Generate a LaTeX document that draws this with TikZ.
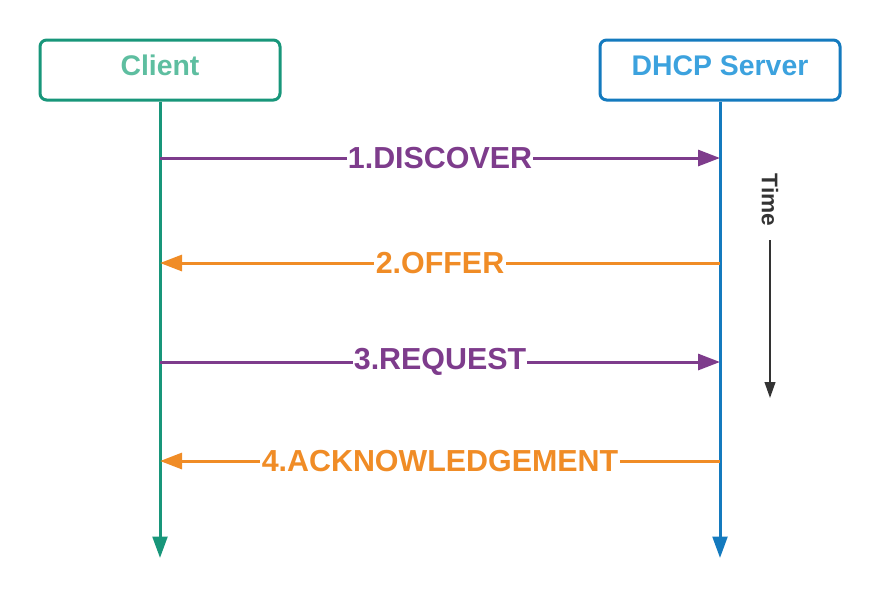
\documentclass[tikz,border=0pt]{standalone}
\usepackage{fontspec}
\setmainfont{Liberation Sans}
\usetikzlibrary{arrows.meta}
\definecolor{clientline}{RGB}{24,150,122}
\definecolor{clienttext}{RGB}{94,190,160}
\definecolor{serverline}{RGB}{20,122,190}
\definecolor{servertext}{RGB}{60,162,222}
\definecolor{msgpurple}{RGB}{126,60,140}
\definecolor{msgorange}{RGB}{240,140,38}
\definecolor{timegray}{RGB}{51,51,51}
\tikzset{
  hostbox/.style={draw, line width=2.25pt, rounded corners=5pt, minimum width=180pt, minimum height=45pt, text height=16pt, text depth=8.2pt, font=\fontsize{21.3}{24}\selectfont\bfseries},
  lifeline/.style={line width=2.25pt, -{Triangle[length=16pt, width=11pt]}},
  msgline/.style={line width=2.25pt, -{Triangle[length=16.5pt, width=12pt]}},
  msglabel/.style={fill=white, inner xsep=1pt, inner ysep=2pt, font=\fontsize{22.8}{26}\selectfont\bfseries},
}
\begin{document}
\begin{tikzpicture}[x=0.75pt, y=-0.75pt]
  \useasboundingbox (0,0) rectangle (880,594);
  \node[hostbox, draw=clientline, text=clienttext] (client) at (160,70) {Client};
  \node[hostbox, draw=serverline, text=servertext] (server) at (720,70) {DHCP Server};
  \coordinate (CE) at (160,558);
  \coordinate (SE) at (720,558);
  \coordinate (C1) at (160,158);
  \coordinate (S1) at (720,158);
  \coordinate (C2) at (160,263);
  \coordinate (S2) at (720,263);
  \coordinate (C3) at (160,362);
  \coordinate (S3) at (720,362);
  \coordinate (C4) at (160,461);
  \coordinate (S4) at (720,461);
  \coordinate (T1) at (770,240);
  \coordinate (T2) at (770,398);

  \draw[lifeline, clientline] (client.south)--(CE);
  \draw[lifeline, serverline] (server.south)--(SE);

  \draw[msgline, msgpurple] (C1)--(S1) node[msglabel, midway] (discover) {1.DISCOVER};
  \draw[msgline, msgorange] (S2)--(C2) node[msglabel, midway] (offer) {2.OFFER};
  \draw[msgline, msgpurple] (C3)--(S3) node[msglabel, midway] (request) {3.REQUEST};
  \draw[msgline, msgorange] (S4)--(C4) node[msglabel, midway] (ack) {4.ACKNOWLEDGEMENT};

  \node[rotate=-90, text=timegray, font=\fontsize{17}{20}\selectfont\bfseries] (time) at (770,200) {Time};
  \draw[timegray, line width=1.5pt, -{Triangle[length=12pt, width=8pt]}] (T1)--(T2);
\end{tikzpicture}
\end{document}
